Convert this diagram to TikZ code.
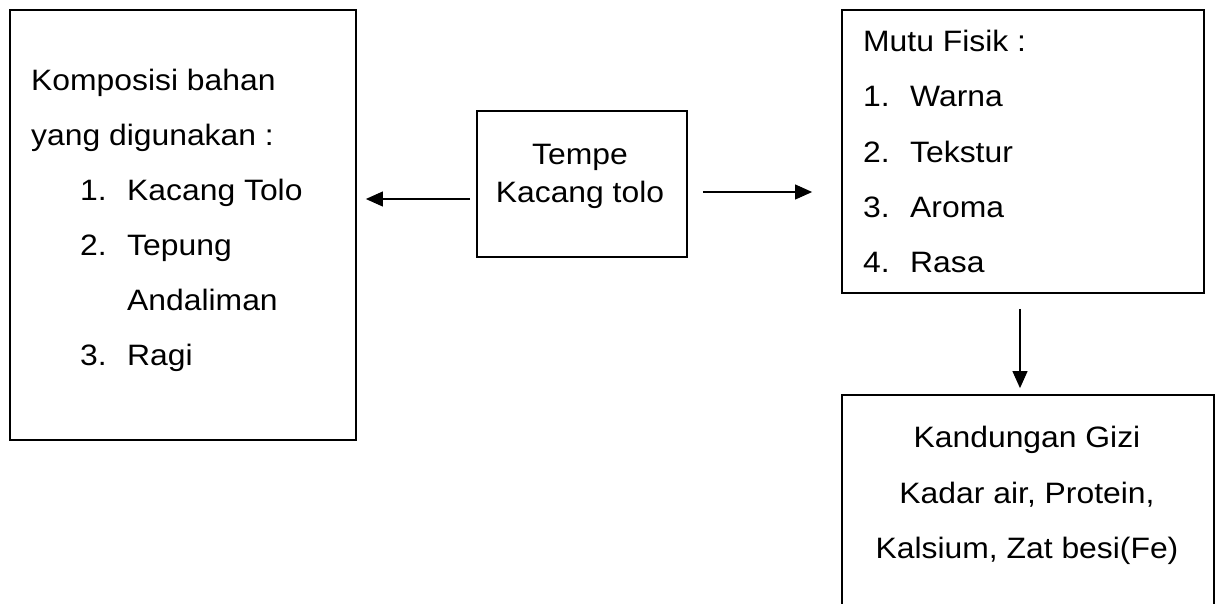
\documentclass[tikz,border=0pt]{standalone}
\usepackage{fontspec}
\setmainfont{Liberation Sans}[FakeStretch=1.08]
\usepackage{tikz}
\usetikzlibrary{arrows.meta}
\usetikzlibrary{positioning}

\begin{document}
\begin{tikzpicture}[x=1pt,y=-1pt,
  every node/.style={font=\fontsize{29.5}{36}\selectfont},
  box/.style={draw,line width=1.8pt,inner sep=0pt},
  txt/.style={anchor=base west,inner sep=0pt},
  ctxt/.style={anchor=base,inner sep=0pt},
  arr/.style={-{Triangle[length=17pt,width=15pt]},line width=1.1pt}]
  \useasboundingbox (0,0) rectangle (1216,603);
  \clip (0,0) rectangle (1216,603);

  % boxes
  \node[box,minimum width=346pt,minimum height=430pt] (komposisi) at (183,225) {};
  \node[box,minimum width=210pt,minimum height=146pt] (tempe) at (582,184) {};
  \node[box,minimum width=362pt,minimum height=283pt] (mutu) at (1023,151.5) {};
  \node[box,minimum width=372pt,minimum height=250pt] (gizi) at (1028,520) {};

  % komposisi bahan
  \node[txt] (k1) at (31,90) {Komposisi bahan};
  \node[txt] (k2) at (31,145) {yang digunakan :};
  \node[txt] (n1) at (80,200) {1.};
  \node[txt] (b1) at (127,200) {Kacang Tolo};
  \node[txt] (n2) at (80,255) {2.};
  \node[txt] (b2) at (127,255) {Tepung};
  \node[txt] (b2a) at (127,310) {Andaliman};
  \node[txt] (n3) at (80,365) {3.};
  \node[txt] (b3) at (127,365) {Ragi};

  % tempe
  \node[ctxt] (t1) at (580,164) {Tempe};
  \node[ctxt] (t2) at (580,202) {Kacang tolo};

  % mutu fisik
  \node[txt] (m0) at (863,51) {Mutu Fisik :};
  \node[txt] (mn1) at (863,106) {1.};
  \node[txt] (m1) at (910,106) {Warna};
  \node[txt] (mn2) at (863,162) {2.};
  \node[txt] (m2) at (910,162) {Tekstur};
  \node[txt] (mn3) at (863,217) {3.};
  \node[txt] (m3) at (910,217) {Aroma};
  \node[txt] (mn4) at (863,272) {4.};
  \node[txt] (m4) at (910,272) {Rasa};

  % kandungan gizi
  \node[ctxt] (g1) at (1027,447) {Kandungan Gizi};
  \node[ctxt] (g2) at (1027,503) {Kadar air, Protein,};
  \node[ctxt] (g3) at (1027,558) {Kalsium, Zat besi(Fe)};

  % arrows
  \draw[arr,shorten <=6pt,shorten >=9pt] ([yshift=-15pt]tempe.west) -- ([yshift=-15pt]tempe.west -| komposisi.east);
  \draw[arr,shorten <=15pt,shorten >=29pt] ([yshift=-8pt]tempe.east) -- ([yshift=-8pt]tempe.east -| mutu.west);
  \draw[arr,shorten <=15pt,shorten >=6pt] ([xshift=-3pt]mutu.south) -- ([xshift=-3pt]mutu.south |- gizi.north);
\end{tikzpicture}
\end{document}
